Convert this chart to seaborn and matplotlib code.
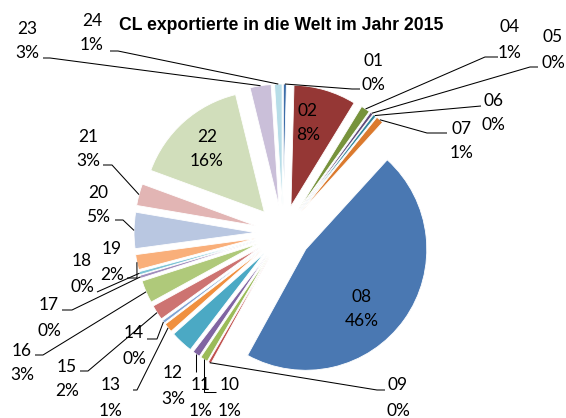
import matplotlib
matplotlib.use("Agg")
import matplotlib.pyplot as plt
import seaborn as sns
import numpy as np

# ---------------- data ----------------
title = "CL exportierte in die Welt im Jahr 2015"
categories = ["01", "02", "04", "05", "06", "07", "08", "09", "10", "11", "12", "13",
              "14", "15", "16", "17", "18", "19", "20", "21", "22", "23", "24"]
shares = [0.4, 8.3, 1.2, 0.4, 0.4, 1.0, 46.0, 0.4, 1.0, 1.0, 3.0, 1.2,
          0.4, 2.0, 3.0, 0.4, 0.4, 2.0, 4.8, 2.9, 15.5, 2.8, 1.0]
colors = ["#3C6DA8", "#953735", "#77933C", "#604A7B", "#31859C", "#DB7A2E",
          "#4A78B2", "#C0504D", "#9BBB59", "#8064A2", "#4BA9C4", "#F0903F",
          "#7FA3D3", "#CD7371", "#AFC97A", "#A08CBC", "#7CC3D5", "#F9AF7A",
          "#B9C7E1", "#E2B5B4", "#D1DEBB", "#CABFD9", "#B7DDE8"]

# ---------------- label layout (pixel coords, y from top) ----------------
# centre of the two-line label block
label_pos = {
    "01": (373, 72), "02": (308, 122), "04": (510, 39), "05": (553, 49),
    "06": (493, 112), "07": (462, 140), "08": (362, 308), "09": (398, 397),
    "10": (230, 397), "11": (201, 397), "12": (173, 385), "13": (111, 397),
    "14": (134, 345), "15": (67, 378), "16": (22, 362), "17": (49, 317),
    "18": (82, 273), "19": (112, 261), "20": (98, 204), "21": (88, 148),
    "22": (207, 148), "23": (27, 40), "24": (92, 32),
}
# leader lines: (start at label, elbow); "v" elbow = straight drop under slice
leaders = {
    "01": ((360, 89), (352, 89)), "04": ((498, 57), (485, 57)),
    "05": ((538, 67), (530, 67)), "06": ((481, 106), (481, 106)),
    "07": ((447, 133), (427, 133)), "09": ((385, 390), (377, 390)),
    "10": ((216, 392), "v"), "11": (None, (None, 372)),
    "13": ((133, 390), (137, 390)), "14": ((147, 339), (157, 339)),
    "15": ((80, 371), (88, 371)), "16": ((35, 355), (43, 355)),
    "17": ((62, 310), (72, 310)), "18": ((97, 292), (97, 292)),
    "19": ((127, 278), (137, 278)), "20": ((115, 220), (123, 220)),
    "21": ((103, 165), (112, 165)), "23": ((43, 58), (50, 58)),
    "24": ((110, 51), (118, 51)),
}

W, H = 566, 418
CX, CY, R, SHIFT = 283, 233, 121, 28

sns.set_theme(style="white")
plt.rcParams["font.family"] = ["Lato", "DejaVu Sans"]

fig = plt.figure(figsize=(W / 100, H / 100), dpi=100)
ax = fig.add_axes([0, 0, 1, 1])
palette = sns.color_palette(colors)

# matplotlib's explode offset is in data units
wedges, _ = ax.pie(shares, colors=palette, explode=[SHIFT] * len(shares),
                   radius=R, center=(CX, CY), startangle=-90, counterclock=True,
                   wedgeprops=dict(edgecolor="white", linewidth=0.6))
ax.set_xlim(0, W)
ax.set_ylim(H, 0)
ax.set_aspect("equal")
ax.axis("off")

total = sum(shares)
for cat, val, w in zip(categories, shares, wedges):
    pct = f"{round(val / total * 100)}%"
    lx, ly = label_pos[cat]
    ax.text(lx, ly - 12.5 + 6, cat, ha="center", va="baseline", fontsize=12.5, color="black")
    ax.text(lx, ly + 12.5 + 6, pct, ha="center", va="baseline", fontsize=12.5, color="black")
    if cat in leaders:
        tm = np.deg2rad((w.theta1 + w.theta2) / 2)
        axp = (w.center[0] + R * np.cos(tm), w.center[1] + R * np.sin(tm))
        start, elbow = leaders[cat]
        if elbow == "v":
            pts = [start, (axp[0], start[1]), axp]
        elif start is None:
            pts = [(axp[0], elbow[1]), axp]
        else:
            pts = [start, elbow, axp]
        xs, ys = zip(*pts)
        ax.plot(xs, ys, color="black", lw=0.75, solid_capstyle="butt")

ax.text(281.5, 30.5, title, ha="center", va="baseline", fontsize=12.7,
        fontweight="bold", color="black", family=["Liberation Sans", "DejaVu Sans"])

fig.savefig("out.png", dpi=100)
